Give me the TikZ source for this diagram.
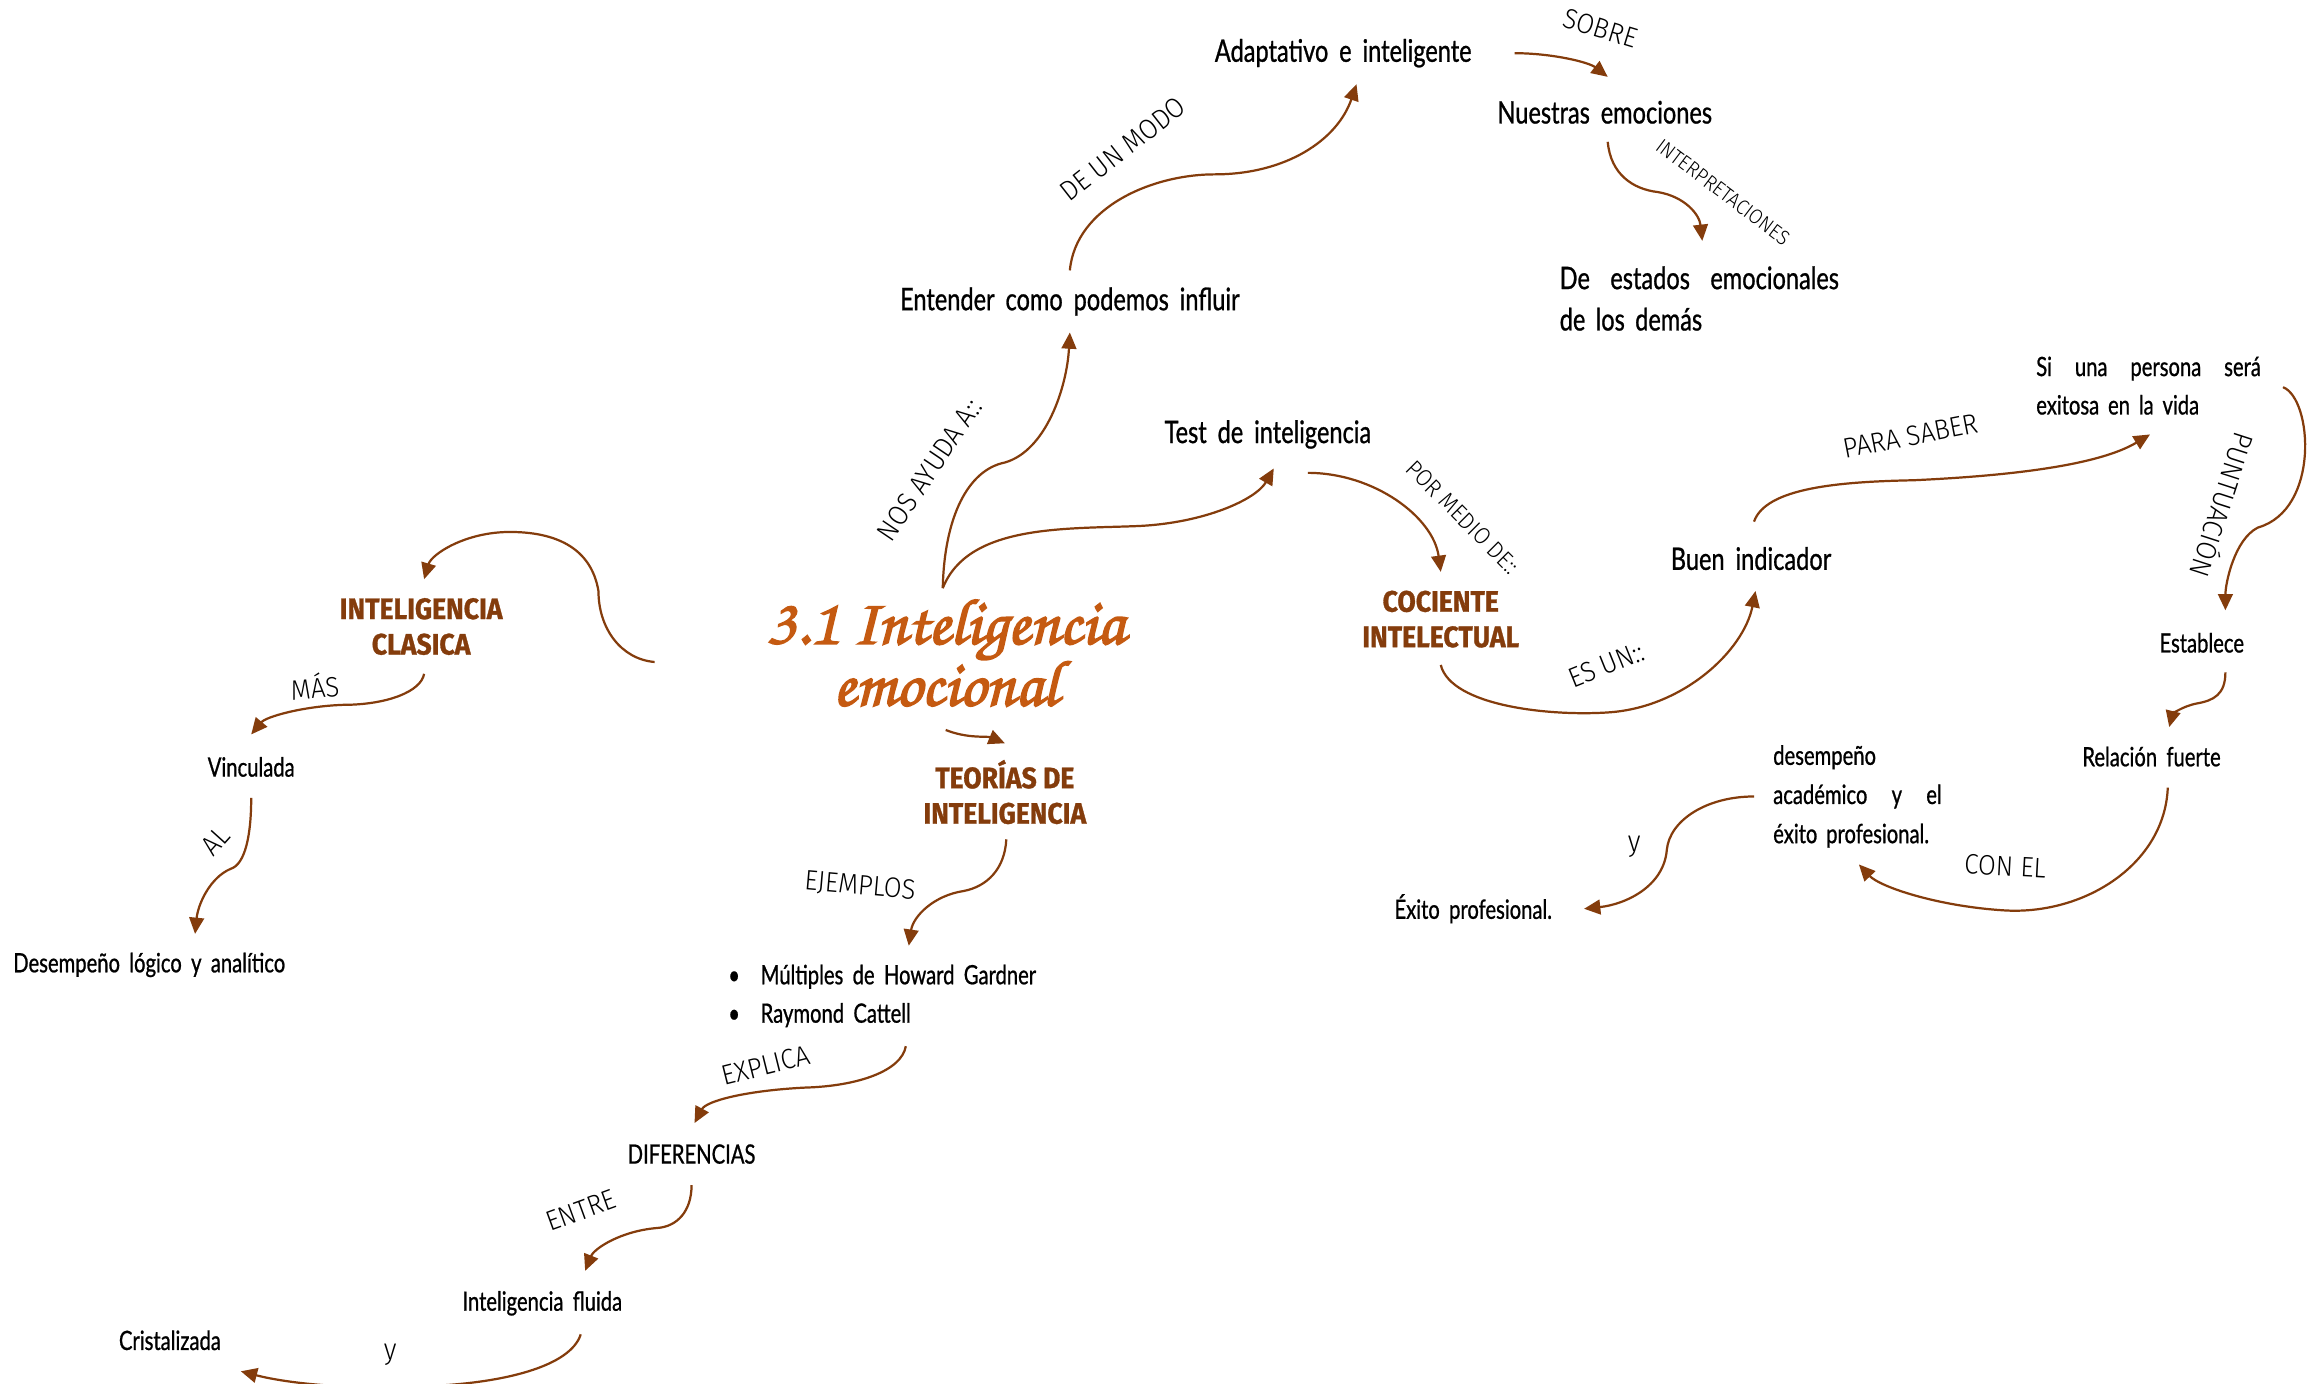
\documentclass[tikz,border=0pt]{standalone}
\usepackage{fontspec}
\usetikzlibrary{arrows.meta}
\definecolor{brn}{HTML}{843C0C}
\definecolor{org}{HTML}{C55A11}
\newfontfamily\txtfont[FakeStretch=0.76,WordSpace=1.8,FakeBold=0.8]{Lato}
\IfFontExistsTF{Fira Sans Light}{\newfontfamily\lblfont[FakeStretch=0.92]{Fira Sans Light}}{\newfontfamily\lblfont[FakeStretch=0.92]{Fira Sans}}
\newfontfamily\hdfont[FakeStretch=0.9,FakeBold=1]{Fira Sans}
\IfFontExistsTF{TeX Gyre Chorus}{\newfontfamily\ttlfont[FakeBold=2.5]{TeX Gyre Chorus}}{\newfontfamily\ttlfont{Latin Modern Roman}}
\tikzset{
  conn/.style={draw=brn, line width=1.5pt, -{Triangle[length=11pt,width=10pt]}},
  main/.style={font=\txtfont\fontsize{21}{28}\selectfont, inner sep=0pt},
  small/.style={font=\txtfont\fontsize{18}{26}\selectfont, inner sep=0pt},
  head/.style={font=\hdfont\bfseries\fontsize{20}{24}\selectfont, text=brn, align=center, inner sep=0pt},
  lbl/.style={font=\lblfont\fontsize{19}{22}\selectfont, inner sep=0pt},
  ttl/.style={font=\ttlfont\fontsize{44}{40}\selectfont, text=org, align=center, inner sep=0pt},
}
\begin{document}
\begin{tikzpicture}[x=1pt,y=-1pt]
\fill[white] (0,0) rectangle (1568,936);
\useasboundingbox (0,0) rectangle (1568,936);
% nodes
\node[ttl] (title) at (640,442) {3.1 Inteligencia\\emocional};
\node[main] (adapt) at (909,36) {Adaptativo e inteligente};
\node[main] (nuestras) at (1086,76) {Nuestras emociones};
\node[main, text width=189pt, align=left] (deest) at (1150,202) {De\hfill estados\hfill emocionales\\de los demás};
\node[main] (entender) at (724,204) {Entender como podemos influir};
\node[main] (test) at (858,294) {Test de inteligencia};
\node[head] (coc) at (975,419) {COCIENTE\\INTELECTUAL};
\node[main] (buen) at (1185,378) {Buen indicador};
\node[small, text width=152pt, align=left] (siuna) at (1454,261) {Si\hfill una\hfill persona\hfill será\\exitosa en la vida};
\node[small] (estab) at (1490,435) {Establece};
\node[small] (rel) at (1456,512) {Relación fuerte};
\node[small, text width=114pt, align=left, font=\txtfont\fontsize{18}{26.5}\selectfont] (desem) at (1257,539) {desempeño\\académico\hfill y\hfill el\\éxito profesional.};
\node[small] (exito) at (997,615) {Éxito profesional.};
\node[head] (clas) at (285,424) {INTELIGENCIA\\CLASICA};
\node[small] (vinc) at (170,519) {Vinculada};
\node[small] (desem2) at (101,653) {Desempeño lógico y analítico};
\node[head] (teo) at (680,536) {TEORÍAS DE\\INTELIGENCIA};
\node[small, align=left] (lista) at (597,674) {\textbullet\hspace{14pt}Múltiples de Howard Gardner\\\textbullet\hspace{14pt}Raymond Cattell};
\node[small] (dif) at (468,781) {DIFERENCIAS};
\node[small] (fluida) at (367,882) {Inteligencia fluida};
\node[small] (crist) at (115,907) {Cristalizada};
% connectors
\draw[conn] ([shift={(-2,-44)}]title.center) .. controls (639,350) and (655,318) .. (680,313) .. controls (708,305) and (722,262) .. ([shift={(0,21)}]entender.center);
\draw[conn] ([shift={(-2,-44)}]title.center) .. controls (655,355) and (720,358) .. (770,356) .. controls (815,354) and (850,338) .. ([shift={(4,23)}]test.center);
\draw[conn] ([shift={(0,-21)}]entender.center) .. controls (728,140) and (780,118) .. (822,118) .. controls (870,118) and (905,95) .. ([shift={(9,21)}]adapt.center);
\draw[conn] ([shift={(116,0)}]adapt.center) .. controls (1050,36) and (1075,42) .. ([shift={(2,-24)}]nuestras.center);
\draw[conn] ([shift={(2,20)}]nuestras.center) .. controls (1090,118) and (1105,128) .. (1122,130) .. controls (1140,133) and (1150,145) .. ([shift={(2,-39)}]deest.center);
\draw[conn] ([shift={(27,26)}]test.center) .. controls (930,320) and (970,350) .. ([shift={(0,-32)}]coc.center);
\draw[conn] ([shift={(0,31)}]coc.center) .. controls (982,478) and (1050,485) .. (1090,482) .. controls (1140,478) and (1180,440) .. ([shift={(3,22)}]buen.center);
\draw[conn] ([shift={(2,-25)}]buen.center) .. controls (1195,330) and (1245,326) .. (1295,325) .. controls (1360,322) and (1420,315) .. ([shift={(1,33)}]siuna.center);
\draw[conn] ([shift={(91,1)}]siuna.center) .. controls (1565,270) and (1570,345) .. (1528,357) .. controls (1512,365) and (1506,395) .. ([shift={(16,-22)}]estab.center);
\draw[conn] ([shift={(16,20)}]estab.center) .. controls (1506,470) and (1498,474) .. (1487,476) .. controls (1476,478) and (1470,484) .. ([shift={(12,-20)}]rel.center);
\draw[conn] ([shift={(11,21)}]rel.center) .. controls (1465,585) and (1410,620) .. (1355,616) .. controls (1310,613) and (1272,600) .. ([shift={(1,46)}]desem.center);
\draw[conn] ([shift={(-70,0)}]desem.center) .. controls (1155,539) and (1130,555) .. (1128,575) .. controls (1126,600) and (1100,612) .. ([shift={(75,0)}]exito.center);
\draw[conn] ([shift={(-197,6)}]title.center) .. controls (420,446) and (405,425) .. (405,400) .. controls (400,370) and (375,360) .. (345,360) .. controls (315,360) and (292,375) .. ([shift={(2,-32)}]clas.center);
\draw[conn] ([shift={(2,32)}]clas.center) .. controls (285,468) and (262,477) .. (232,477) .. controls (205,478) and (180,485) .. ([shift={(0,-22)}]vinc.center);
\draw[conn] ([shift={(0,21)}]vinc.center) .. controls (170,565) and (166,585) .. (156,588) .. controls (142,594) and (134,612) .. ([shift={(31,-21)}]desem2.center);
\draw[conn] ([shift={(0,52)}]title.center) .. controls (655,500) and (668,498) .. ([shift={(0,-33)}]teo.center);
\draw[conn] ([shift={(1,32)}]teo.center) .. controls (680,588) and (668,600) .. (652,603) .. controls (632,606) and (618,620) .. ([shift={(18,-34)}]lista.center);
\draw[conn] ([shift={(16,34)}]lista.center) .. controls (610,725) and (580,735) .. (545,736) .. controls (505,738) and (478,745) .. ([shift={(2,-21)}]dif.center);
\draw[conn] ([shift={(0,21)}]dif.center) .. controls (468,820) and (458,830) .. (445,831) .. controls (420,833) and (402,845) .. ([shift={(29,-22)}]fluida.center);
\draw[conn] ([shift={(26,21)}]fluida.center) .. controls (386,925) and (340,936) .. (290,938) .. controls (230,941) and (190,935) .. ([shift={(48,21)}]crist.center);
% labels
\node[lbl, rotate=-17] (lsobre) at (1083,19) {SOBRE};
\node[lbl, rotate=38] (lmodo) at (760,101) {DE UN MODO};
\node[lbl, rotate=-37, font=\lblfont\fontsize{14}{16}\selectfont] (linter) at (1166,130) {INTERPRETACIONES};
\node[lbl, rotate=56, font=\lblfont\fontsize{19}{20}\selectfont] (lnos) at (629,318) {NOS AYUDA A::};
\node[lbl, rotate=-45, font=\lblfont\fontsize{16}{18}\selectfont] (lpor) at (990,350) {POR MEDIO DE::};
\node[lbl, rotate=11] (lpara) at (1293,295) {PARA SABER};
\node[lbl, rotate=-108] (lpunt) at (1505,342) {PUNTUACIÓN};
\node[lbl, rotate=22] (lesun) at (1087,450) {ES UN::};
\node[lbl, rotate=5] (lmas) at (213,464) {MÁS};
\node[lbl, rotate=48] (lal) at (146,569) {AL};
\node[lbl, rotate=-5] (lejem) at (582,600) {EJEMPLOS};
\node[lbl, rotate=14] (lexpl) at (518,721) {EXPLICA};
\node[lbl, rotate=20] (lentre) at (393,819) {ENTRE};
\node[lbl, font=\lblfont\fontsize{20}{22}\selectfont] (ly1) at (264,917) {y};
\node[lbl, font=\lblfont\fontsize{20}{22}\selectfont] (ly2) at (1106,573) {y};
\node[lbl, rotate=-3] (lcon) at (1357,586) {CON EL};
\end{tikzpicture}
\end{document}
